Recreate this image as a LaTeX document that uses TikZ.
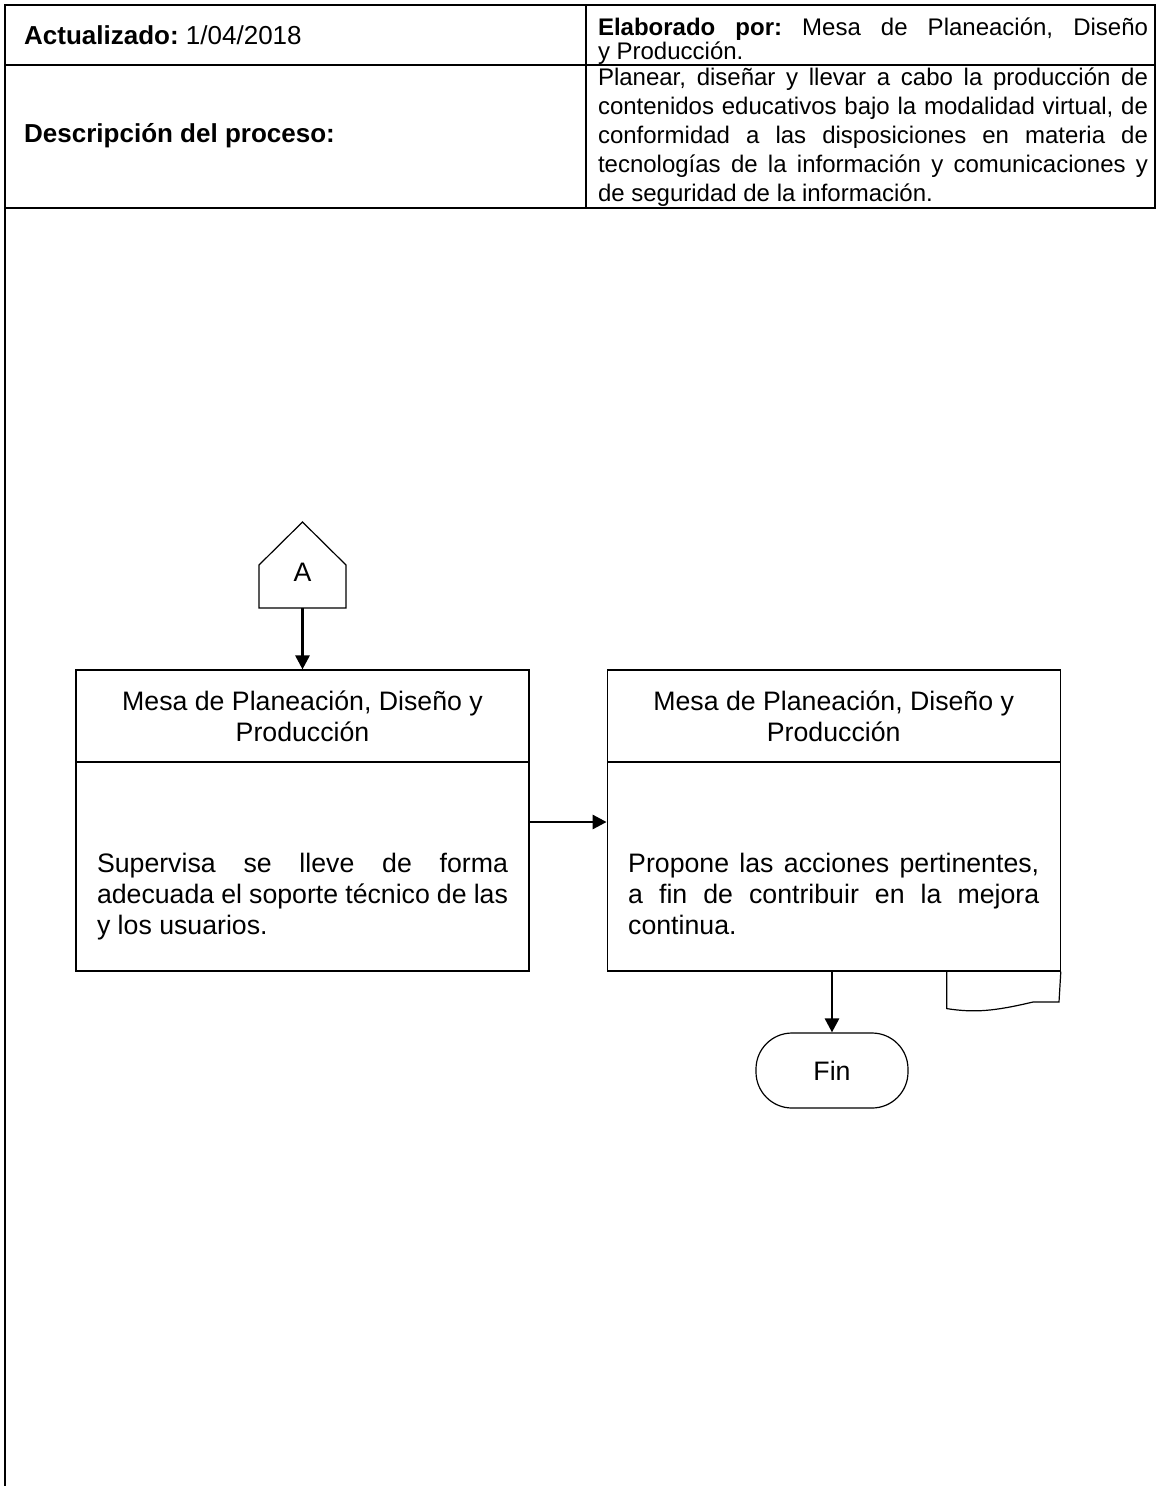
\documentclass[tikz,border=0pt]{standalone}
\usepackage{fontspec}
\setmainfont{Liberation Sans}
\frenchspacing
\usetikzlibrary{arrows.meta,positioning}
\newcommand{\lineaj}[2]{\makebox[#1][s]{#2}}
\begin{document}
\begin{tikzpicture}[x=1pt,y=-1pt,
  linea/.style={line width=1.4pt},
  caja/.style={draw, line width=1.2pt, minimum width=453pt, inner sep=0pt},
  flecha/.style={line width=2.8pt, -{Triangle[length=14pt,width=14pt]}},
  texto/.style={font=\fontsize{26.7}{31}\selectfont, align=center},
  parrafo/.style={font=\fontsize{26.7}{31}\selectfont, align=justify, text width=411pt, inner sep=0pt},
  cabecera/.style={font=\fontsize{26}{30}\selectfont, anchor=west, inner sep=0pt}]
  \useasboundingbox (0,0) rectangle (1159,1486);
  \draw[linea] (5,208) -- (5,5) -- (1155,5) -- (1155,208) -- cycle;
  \draw[linea] (5,65) -- (1155,65);
  \draw[linea] (586,5) -- (586,208);
  \draw[linea] (5,208) -- (5,1486);
  \node[cabecera] (act) at (24,35) {\textbf{Actualizado:} 1/04/2018};
  \node[cabecera] (desc) at (24,136) {\textbf{Descripción del proceso:}};
  \node[text width=550pt, align=justify, inner sep=0pt, font=\fontsize{24}{24}\selectfont] (elab) at (873,41)
    {\lineaj{550pt}{\textbf{Elaborado por:} Mesa de Planeación, Diseño}\\y Producción.};
  \node[text width=550pt, align=justify, inner sep=0pt, font=\fontsize{24}{29}\selectfont] (proc) at (873,137)
    {\lineaj{550pt}{Planear, diseñar y llevar a cabo la producción de}\\
     \lineaj{550pt}{contenidos educativos bajo la modalidad virtual, de}\\
     \lineaj{550pt}{conformidad a las disposiciones en materia de}\\
     \lineaj{550pt}{tecnologías de la información y comunicaciones y}\\
     de seguridad de la información.};

  \node[texto, inner sep=0pt] (conA) at (302.5,572) {A};
  \coordinate (conAbase) at (302.5,608);
  \draw[line width=1.2pt] (conAbase) -| (259,565) -- (302.5,522) -- (346,565) |- (conAbase);

  \node[caja, texto, minimum height=92pt] (cab1) at (302.5,716) {Mesa de Planeación, Diseño y\\Producción};
  \node[caja, minimum height=209pt, below=-1.2pt of cab1] (cuerpo1) {};
  \node[parrafo] (txt1) at (302.5,897)
    {\lineaj{411pt}{Supervisa se lleve de forma}\\
     \lineaj{411pt}{adecuada el soporte técnico de las}\\
     y los usuarios.};

  \node[caja, texto, minimum height=92pt, right=77pt of cab1] (cab2) {Mesa de Planeación, Diseño y\\Producción};
  \node[caja, minimum height=209pt, below=-1.2pt of cab2] (cuerpo2) {};
  \node[parrafo, anchor=north] (txt2) at (cuerpo2 |- txt1.north)
    {\lineaj{411pt}{Propone las acciones pertinentes,}\\
     \lineaj{411pt}{a fin de contribuir en la mejora}\\
     continua.};
  \draw[line width=1.2pt] ([xshift=-114pt]cuerpo2.south east) -- ++(0,37)
    .. controls (975,1013) and (995,1011) .. (1033,1002) -- (1059,1002) -- (cuerpo2.south east);

  \node[draw, line width=1.2pt, rounded corners=36pt, minimum width=152pt, minimum height=75pt, texto] (fin) at (832,1070.5) {Fin};

  \draw[flecha] (conAbase) -- (cab1.north);
  \draw[flecha] ([yshift=44.5pt]cuerpo1.east) -- ([yshift=44.5pt]cuerpo2.west);
  \draw[flecha] (cuerpo2.south -| fin) -- (fin.north);
\end{tikzpicture}
\end{document}
